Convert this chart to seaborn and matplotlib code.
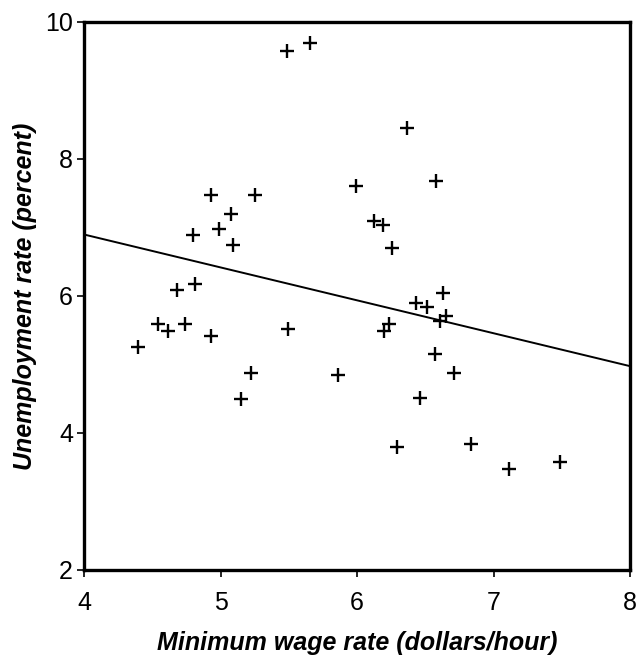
import numpy as np
import pandas as pd
import matplotlib
matplotlib.use("Agg")
import matplotlib.pyplot as plt
import seaborn as sns

min_wage = [5.485, 5.656, 5.99, 4.928, 5.25, 5.075, 4.796, 4.986, 5.089, 4.68, 4.81,
            6.364, 6.579, 6.125, 6.188, 6.259, 6.628,
            4.542, 4.618, 4.737, 4.398, 4.928, 5.497, 5.221, 5.148, 5.863,
            6.432, 6.51, 6.652, 6.608, 6.232, 6.198, 6.569, 6.713, 6.46, 6.29, 6.833, 7.111, 7.487]
unemp = [9.58, 9.70, 7.60, 7.48, 7.48, 7.19, 6.89, 6.98, 6.74, 6.08, 6.17,
         8.45, 7.68, 7.10, 7.04, 6.70, 6.05,
         5.59, 5.49, 5.59, 5.26, 5.41, 5.52, 4.88, 4.50, 4.85,
         5.90, 5.84, 5.71, 5.63, 5.59, 5.49, 5.15, 4.88, 4.51, 3.80, 3.84, 3.48, 3.58]
x_ticks = [4, 5, 6, 7, 8]
y_ticks = [2, 4, 6, 8, 10]

df = pd.DataFrame({"wage": min_wage, "unemp": unemp})

sns.set_style("white")
plt.rcParams['font.family'] = ['Liberation Sans', 'DejaVu Sans']
plt.rcParams['text.color'] = 'black'
plt.rcParams['axes.labelcolor'] = 'black'
plt.rcParams['xtick.color'] = 'black'
plt.rcParams['ytick.color'] = 'black'

fig = plt.figure(figsize=(6.39, 6.64), dpi=100)
ax = fig.add_axes([0.1315, 0.1416, 0.8545, 0.8253])
ax.set_xlim(4, 8)
ax.set_ylim(2, 10)

sns.regplot(data=df, x="wage", y="unemp", ax=ax, ci=None, truncate=False,
            marker="+", color="black",
            scatter_kws={"s": 110, "linewidths": 1.7, "alpha": 1},
            line_kws={"linewidth": 1.4})

ax.set_xlim(4, 8)
ax.set_ylim(2, 10)
ax.set_xticks(x_ticks)
ax.set_yticks(y_ticks)
ax.tick_params(axis="both", direction="out", length=5, width=1.2, labelsize=18,
               bottom=True, left=True, color="black")
ax.tick_params(axis="x", pad=10)
ax.tick_params(axis="y", pad=3)
for s in ax.spines.values():
    s.set_visible(True)
    s.set_linewidth(2.4)
    s.set_color("black")
ax.set_xlabel("Minimum wage rate (dollars/hour)", fontsize=18, fontweight="bold",
              fontstyle="italic", labelpad=12)
ax.set_ylabel("Unemployment rate (percent)", fontsize=18, fontweight="bold",
              fontstyle="italic", labelpad=6)
fig.savefig("out.png", dpi=100)
